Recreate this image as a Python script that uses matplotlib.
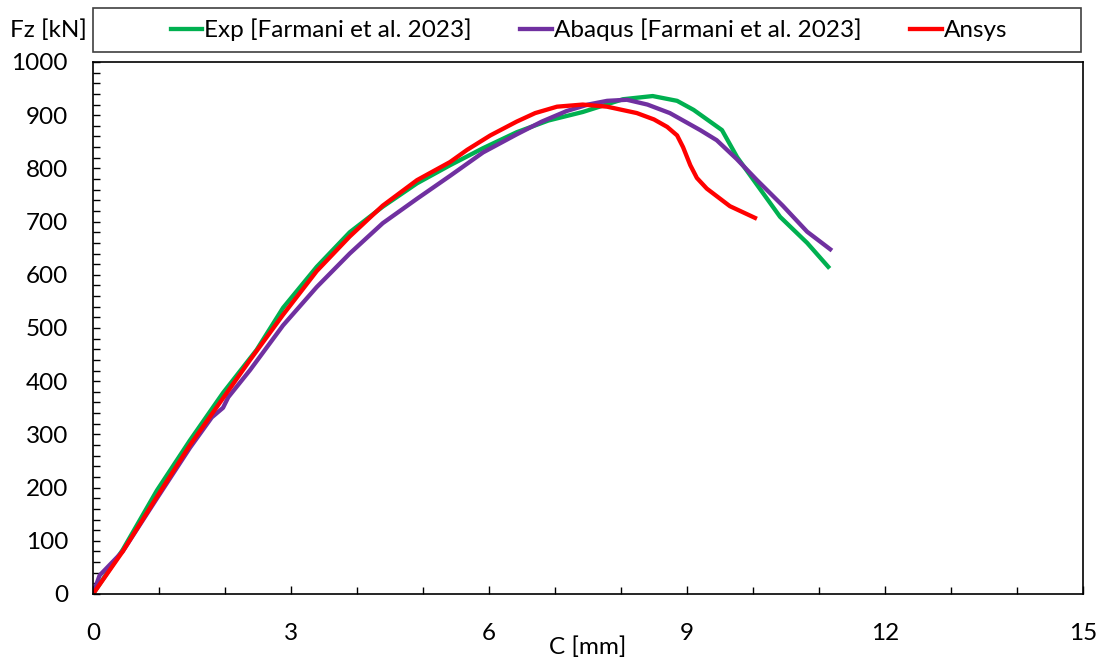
import matplotlib.pyplot as plt
from matplotlib.patches import Rectangle
from matplotlib.ticker import MultipleLocator

plt.rcParams["font.family"] = ["Lato", "DejaVu Sans"]

# Exp [Farmani et al. 2023]
exp_c = [0, 0.45, 0.97, 1.47, 1.97, 2.48, 2.88, 3.39, 3.89, 4.39, 4.91, 5.41,
         5.91, 6.42, 6.9, 7.42, 8.03, 8.48, 8.85, 9.1, 9.53, 9.76, 10.41,
         10.82, 11.14]
exp_f = [0, 83, 195, 289, 378, 459, 538, 615, 680, 728, 772, 806,
         838, 868, 890, 906, 930, 936, 927, 910, 872, 821, 709,
         660, 615]

# Abaqus [Farmani et al. 2023]
abq_c = [0, 0.1, 0.45, 0.97, 1.47, 1.8, 1.97, 2.05, 2.38, 2.88, 3.39, 3.89,
         4.39, 4.91, 5.41, 5.91, 6.42, 6.8, 7.18, 7.5, 7.79, 8.09, 8.4, 8.74,
         9.2, 9.45, 9.75, 10.06, 10.45, 10.82, 11.17]
abq_f = [0, 35, 80, 180, 275, 332, 350, 370, 421, 505, 577, 640,
         697, 743, 786, 830, 864, 888, 908, 920, 927, 929, 920, 904,
         872, 853, 818, 778, 730, 681, 648]

# Ansys
ans_c = [0, 0.45, 0.97, 1.47, 1.97, 2.38, 2.88, 3.39, 3.89, 4.39, 4.91, 5.41,
         5.67, 6.02, 6.42, 6.7, 7.03, 7.42, 7.79, 8.24, 8.5, 8.7, 8.85, 8.94,
         9.05, 9.15, 9.3, 9.65, 10.03]
ans_f = [0, 80, 183, 280, 368, 440, 525, 607, 672, 730, 778, 812,
         835, 862, 888, 904, 916, 920, 916, 904, 892, 878, 862, 840,
         806, 782, 762, 729, 707]

fig = plt.figure(figsize=(11.03, 6.61), dpi=100)
ax = fig.add_axes([93 / 1103, 67 / 661, 990 / 1103, 532 / 661])

lw = 3.1
l1, = ax.plot(exp_c, exp_f, color="#00B050", lw=lw, label="Exp [Farmani et al. 2023]")
l2, = ax.plot(abq_c, abq_f, color="#7030A0", lw=lw, label="Abaqus [Farmani et al. 2023]")
l3, = ax.plot(ans_c, ans_f, color="#FF0000", lw=lw, label="Ansys")

ax.set_xlim(0, 15)
ax.set_ylim(0, 1000)
ax.xaxis.set_major_locator(MultipleLocator(3))
ax.xaxis.set_minor_locator(MultipleLocator(1))
ax.yaxis.set_major_locator(MultipleLocator(100))
ax.yaxis.set_minor_locator(MultipleLocator(20))
ax.tick_params(axis="x", which="both", direction="in", labelsize=17.5, width=1)
ax.tick_params(axis="x", which="major", length=6, pad=21)
ax.tick_params(axis="x", which="minor", length=5)
ax.tick_params(axis="y", which="both", direction="in", labelsize=17.5, width=1, length=5)
ax.tick_params(axis="y", which="major", pad=18)
for s in ax.spines.values():
    s.set_linewidth(1.2)
    s.set_color("black")

ax.set_xlabel("C [mm]", fontsize=17.5, va="top")
ax.xaxis.set_label_coords(0.5, -0.079)
ax.set_ylabel("Fz [kN]", fontsize=17.5, rotation=0, ha="left", va="center")
ax.yaxis.set_label_coords(-0.084, 1.06)

# legend box spanning the plot width
fig.patches.append(Rectangle((93 / 1103, 1 - 52 / 661), 988 / 1103, 44 / 661,
                             transform=fig.transFigure, fill=False,
                             edgecolor="#404040", lw=1.2))
fig.legend(handles=[l1, l2, l3], loc="center", bbox_to_anchor=(589 / 1103, 1 - 30 / 661),
           ncol=3, frameon=False, fontsize=17.5, handlelength=1.3,
           handletextpad=0.08, columnspacing=2.0, borderaxespad=0)

fig.savefig("out.png", dpi=100)
